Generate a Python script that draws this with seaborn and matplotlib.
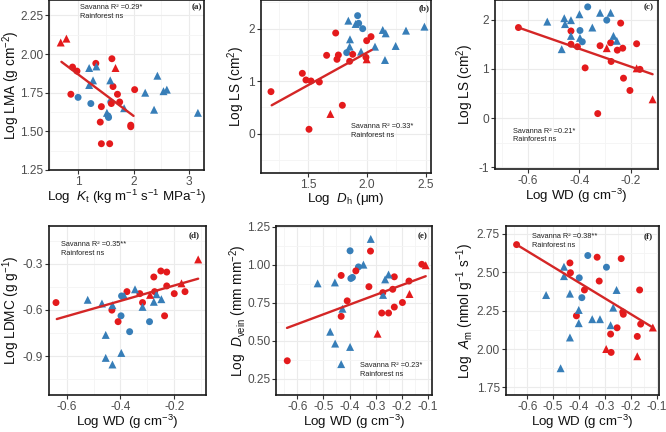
import matplotlib
matplotlib.use("Agg")
import matplotlib.pyplot as plt
import seaborn as sns
import pandas as pd
from matplotlib.ticker import FixedLocator, MultipleLocator, FormatStrFormatter

# ---------------- data ----------------
# Panel (a): Log Kt vs Log LMA
a_sav_circle = [(0.90, 1.916), (0.98, 1.89), (0.87, 1.74), (1.32, 1.94), (1.61, 1.97), (1.63, 1.79),
                (1.71, 1.74), (1.42, 1.66), (1.40, 1.56), (1.60, 1.68), (1.75, 1.69), (1.95, 1.54),
                (1.95, 1.53), (2.02, 1.77), (1.42, 1.42), (1.57, 1.42)]
a_sav_tri = [(0.687, 2.075), (0.79, 2.10), (1.675, 1.91)]
a_rf_circle = [(1.0, 1.72), (1.23, 1.68), (1.54, 1.60), (1.55, 1.59), (1.59, 1.69)]
a_rf_tri = [(1.20, 1.91), (1.33, 1.92), (1.27, 1.83), (1.20, 1.80), (1.58, 1.83), (1.83, 1.65),
            (1.52, 1.62), (2.21, 1.75), (2.43, 1.86), (2.37, 1.64), (2.54, 1.76), (2.60, 1.77), (3.16, 1.62)]
a_fit = [(0.70, 1.95), (2.00, 1.60)]

# Panel (b): Log Dh vs Log LS
b_sav_circle = [(1.182, 0.80), (1.449, 1.149), (1.480, 1.022), (1.523, 1.003), (1.594, 0.984),
                (1.506, 0.083), (1.656, 1.492), (1.733, 1.917), (1.744, 1.416), (1.756, 1.498),
                (1.790, 0.540), (1.852, 1.378), (1.878, 1.511), (1.997, 1.771), (2.034, 1.848), (1.991, 1.454)]
b_sav_tri = [(1.688, 0.375), (1.997, 1.416)]
b_rf_circle = [(1.920, 2.248), (1.929, 2.102), (1.963, 2.0), (1.827, 1.543)]
b_rf_tri = [(1.841, 2.152), (1.855, 1.797), (1.852, 1.657), (1.949, 1.562), (2.068, 1.657), (2.134, 1.975),
            (2.159, 1.911), (2.153, 1.403), (2.244, 1.670), (2.332, 1.962), (2.489, 2.038), (1.903, 2.089)]
b_fit = [(1.188, 0.540), (2.040, 1.594)]

# Panel (c): Log WD vs Log LS
c_sav_circle = [(-0.636, 1.84), (-0.432, 1.77), (-0.432, 1.50), (-0.407, 1.45), (-0.377, 1.02),
                (-0.319, 1.47), (-0.278, 1.53), (-0.276, 1.15), (-0.252, 1.38), (-0.231, 1.42),
                (-0.239, 1.93), (-0.177, 1.51), (-0.164, 0.99), (-0.228, 0.81), (-0.203, 0.56), (-0.328, 0.09)]
c_sav_tri = [(-0.293, 1.42), (-0.177, 1.01), (-0.115, 0.38)]
c_rf_circle = [(-0.367, 2.26), (-0.293, 1.99), (-0.397, 1.78), (-0.388, 1.55)]
c_rf_tri = [(-0.524, 1.96), (-0.458, 2.03), (-0.455, 1.91), (-0.432, 1.99), (-0.399, 2.11), (-0.349, 1.84),
            (-0.319, 2.14), (-0.278, 2.14), (-0.267, 1.67), (-0.254, 1.57), (-0.468, 1.40), (-0.432, 1.67),
            (-0.397, 1.63)]
c_fit = [(-0.636, 1.84), (-0.115, 0.89)]

# Panel (d): Log WD vs Log LDMC
d_sav_circle = [(-0.640, -0.552), (-0.432, -0.601), (-0.409, -0.676), (-0.376, -0.481), (-0.328, -0.494),
                (-0.318, -0.552), (-0.276, -0.386), (-0.273, -0.481), (-0.250, -0.347), (-0.228, -0.354),
                (-0.228, -0.444), (-0.236, -0.638), (-0.200, -0.494), (-0.160, -0.481)]
d_sav_tri = [(-0.290, -0.502), (-0.173, -0.427), (-0.111, -0.272)]
d_rf_circle = [(-0.396, -0.509), (-0.398, -0.638), (-0.366, -0.741), (-0.292, -0.676)]
d_rf_tri = [(-0.522, -0.534), (-0.469, -0.558), (-0.430, -0.569), (-0.386, -0.509), (-0.346, -0.466),
            (-0.318, -0.580), (-0.276, -0.547), (-0.266, -0.498), (-0.248, -0.530), (-0.455, -0.762),
            (-0.455, -0.911), (-0.430, -0.954), (-0.397, -0.879)]
d_fit = [(-0.637, -0.659), (-0.111, -0.397)]

# Panel (e): Log WD vs Log Dvein
e_sav_circle = [(-0.638, 0.369), (-0.432, 0.930), (-0.409, 0.763), (-0.432, 0.661), (-0.376, 0.960),
                (-0.320, 1.090), (-0.326, 0.856), (-0.273, 0.817), (-0.277, 0.683), (-0.251, 0.683),
                (-0.229, 0.921), (-0.235, 0.839), (-0.229, 0.722), (-0.198, 0.752), (-0.173, 0.893), (-0.124, 1.003)]
e_sav_tri = [(-0.293, 0.547), (-0.171, 0.808), (-0.109, 0.997)]
e_rf_circle = [(-0.398, 1.092), (-0.366, 0.986), (-0.389, 0.917), (-0.395, 0.910)]
e_rf_tri = [(-0.522, 0.878), (-0.456, 0.884), (-0.427, 0.711), (-0.474, 0.560), (-0.455, 0.482),
            (-0.398, 0.460), (-0.432, 0.347), (-0.347, 1.001), (-0.319, 1.170), (-0.272, 0.802),
            (-0.264, 0.904), (-0.251, 0.936)]
e_fit = [(-0.639, 0.585), (-0.109, 0.925)]

# Panel (f): Log WD vs Log Am
f_sav_circle = [(-0.641, 2.679), (-0.435, 2.560), (-0.433, 2.496), (-0.379, 2.384), (-0.410, 2.216),
                (-0.330, 2.597), (-0.322, 2.442), (-0.237, 2.588), (-0.166, 2.384), (-0.231, 2.241),
                (-0.229, 2.226), (-0.253, 2.138), (-0.278, 2.097), (-0.276, 1.978), (-0.175, 2.082), (-0.162, 2.162)]
f_sav_tri = [(-0.295, 2.000), (-0.175, 1.953), (-0.115, 2.140)]
f_rf_circle = [(-0.366, 2.608), (-0.294, 2.532), (-0.399, 2.463), (-0.389, 2.334)]
f_rf_tri = [(-0.527, 2.351), (-0.458, 2.535), (-0.458, 2.474), (-0.435, 2.360), (-0.435, 2.075),
            (-0.401, 2.254), (-0.401, 2.168), (-0.349, 2.194), (-0.319, 2.194), (-0.278, 2.155),
            (-0.268, 2.269), (-0.255, 2.384), (-0.471, 1.875)]
f_fit = [(-0.641, 2.679), (-0.115, 2.140)]

notes = ["Savanna R\u00b2 =0.29*", "Savanna R\u00b2 =0.33*", "Savanna R\u00b2 =0.21*",
         "Savanna R\u00b2 =0.35**", "Savanna R\u00b2 =0.23*", "Savanna R\u00b2 =0.38**"]
letters = ["(a)", "(b)", "(c)", "(d)", "(e)", "(f)"]

# ---------------- style ----------------
sns.set_theme(style="whitegrid")
plt.rcParams.update({
    "font.family": ["Liberation Sans", "DejaVu Sans"],
    "mathtext.fontset": "custom",
    "mathtext.rm": "Liberation Sans",
    "mathtext.it": "Liberation Sans:italic",
    "mathtext.bf": "Liberation Sans:bold",
})

RED = "#E41A1C"
BLUE = "#377EB8"
LINE = "#D42626"
pal = {"Savanna": RED, "Rainforest": BLUE}

W, H = 666, 432
fig = plt.figure(figsize=(W / 100, H / 100), dpi=100)


def rect(l, r, t, b):
    return [l / W, 1 - b / H, (r - l) / W, (b - t) / H]


def frame(sc, st, rc, rt):
    rows = []
    for pts, site, leaf in [(rc, "Rainforest", "circle"), (rt, "Rainforest", "triangle"),
                            (sc, "Savanna", "circle"), (st, "Savanna", "triangle")]:
        for x, y in pts:
            rows.append({"x": x, "y": y, "site": site, "leaf": leaf})
    return pd.DataFrame(rows)


def panel(r, sc, st, rc, rt, fit, xlim, ylim, xt, yt, xfmt, yfmt, xlabel, ylabel,
          ylab_x, xlab_y, note, note_xy, letter, letter_xy):
    ax = fig.add_axes(r)
    df = frame(sc, st, rc, rt)
    for leaf, mk, s in [("circle", "o", 25), ("triangle", "^", 33)]:
        sub = df[df["leaf"] == leaf]
        sns.scatterplot(data=sub, x="x", y="y", hue="site", palette=pal, marker=mk, s=s,
                        linewidth=0, legend=False, ax=ax, zorder=3)
    fdf = pd.DataFrame(fit, columns=["x", "y"])
    sns.lineplot(data=fdf, x="x", y="y", color=LINE, linewidth=1.7, ax=ax, zorder=4)
    ax.set_xlim(*xlim)
    ax.set_ylim(*ylim)
    ax.xaxis.set_major_locator(FixedLocator(xt))
    ax.yaxis.set_major_locator(FixedLocator(yt))
    ax.xaxis.set_minor_locator(MultipleLocator((xt[1] - xt[0]) / 2))
    ax.yaxis.set_minor_locator(MultipleLocator((yt[1] - yt[0]) / 2))
    ax.xaxis.set_major_formatter(FormatStrFormatter(xfmt))
    ax.yaxis.set_major_formatter(FormatStrFormatter(yfmt))
    ax.grid(True, which="major", color="#EBEBEB", linewidth=0.8)
    ax.grid(True, which="minor", color="#F4F4F4", linewidth=0.6)
    ax.set_axisbelow(True)
    for sp in ax.spines.values():
        sp.set_color("#1A1A1A")
        sp.set_linewidth(1.2)
    ax.tick_params(axis="both", which="major", direction="out", length=3, width=0.8,
                   color="#333333", labelsize=8.6, labelcolor="#4D4D4D", pad=1.2,
                   bottom=True, left=True)
    ax.tick_params(axis="both", which="minor", length=0)
    ax.set_xlabel(xlabel, fontsize=9.6, color="#111111")
    ax.set_ylabel(ylabel, fontsize=9.8, color="#111111")
    h_px = r[3] * H
    w_px = r[2] * W
    ax.xaxis.set_label_coords(0.5, -xlab_y / h_px)
    ax.yaxis.set_label_coords(ylab_x / w_px, 0.5)
    ax.text(note_xy[0], note_xy[1], note + "\nRainforest ns", transform=ax.transAxes,
            fontsize=5.3, ha="left", va="top", color="#222222", linespacing=1.35)
    ax.text(letter_xy[0], letter_xy[1], letter, transform=ax.transAxes, fontsize=6.5,
            family=["Liberation Serif", "DejaVu Serif"], weight="bold", ha="right", va="center",
            color="#222222")
    return ax


WD_LABEL = "Log WD (g cm$^{-3}$)"
BT, BB = 226, 395  # bottom-row top / bottom edge in pixels

panel(rect(49, 204, 0, 170), a_sav_circle, a_sav_tri, a_rf_circle, a_rf_tri, a_fit,
      (0.476, 3.27), (1.25, 2.35), [1, 2, 3], [1.25, 1.50, 1.75, 2.00, 2.25], "%d", "%.2f",
      "Log  $K_{\\rm t}$ (kg m$^{-1}$ s$^{-1}$ MPa$^{-1}$)", "Log LMA (g cm$^{-2}$)", -27, 18,
      notes[0], (0.20, 0.975), letters[0], (0.985, 0.955))

panel(rect(261, 431, 0, 173), b_sav_circle, b_sav_tri, b_rf_circle, b_rf_tri, b_fit,
      (1.097, 2.545), (-0.75, 2.546), [1.5, 2.0, 2.5], [0, 1, 2], "%.1f", "%d",
      "Log  $D_{\\rm h}$ (\u03bcm)", "Log LS (cm$^{2}$)", -14, 18,
      notes[1], (0.53, 0.29), letters[1], (0.99, 0.955))

panel(rect(495, 658, 0, 169), c_sav_circle, c_sav_tri, c_rf_circle, c_rf_tri, c_fit,
      (-0.727, -0.094), (-1.037, 2.40), [-0.6, -0.4, -0.2], [-1, 0, 1, 2], "%.1f", "%d",
      WD_LABEL, "Log LS (cm$^{2}$)", -19, 18,
      notes[2], (0.11, 0.245), letters[2], (0.975, 0.955))

panel(rect(49, 205.7, BT, BB), d_sav_circle, d_sav_tri, d_rf_circle, d_rf_tri, d_fit,
      (-0.666, -0.083), (-1.152, -0.055), [-0.6, -0.4, -0.2], [-0.9, -0.6, -0.3], "%.1f", "%.1f",
      WD_LABEL, "Log LDMC (g g$^{-1}$)", -27, 17.5,
      notes[3], (0.077, 0.91), letters[3], (0.964, 0.945))

panel(rect(276, 432, BT, BB), e_sav_circle, e_sav_tri, e_rf_circle, e_rf_tri, e_fit,
      (-0.681, -0.085), (0.144, 1.255), [-0.6, -0.5, -0.4, -0.3, -0.2, -0.1],
      [0.25, 0.50, 0.75, 1.00, 1.25], "%.1f", "%.2f",
      WD_LABEL, "Log  $D_{\\rm vein}$ (mm mm$^{-2}$)", -27, 17.5,
      notes[4], (0.54, 0.195), letters[4], (0.974, 0.94))

panel(rect(505.7, 659.3, BT, BB), f_sav_circle, f_sav_tri, f_rf_circle, f_rf_tri, f_fit,
      (-0.683, -0.09), (1.701, 2.80), [-0.6, -0.5, -0.4, -0.3, -0.2, -0.1],
      [1.75, 2.00, 2.25, 2.50, 2.75], "%.1f", "%.2f",
      WD_LABEL, "Log  $A_{\\rm m}$ (nmol g$^{-1}$ s$^{-1}$)", -30, 17.5,
      notes[5], (0.173, 0.96), letters[5], (0.955, 0.94))

fig.savefig("out.png", dpi=100, facecolor="white")
